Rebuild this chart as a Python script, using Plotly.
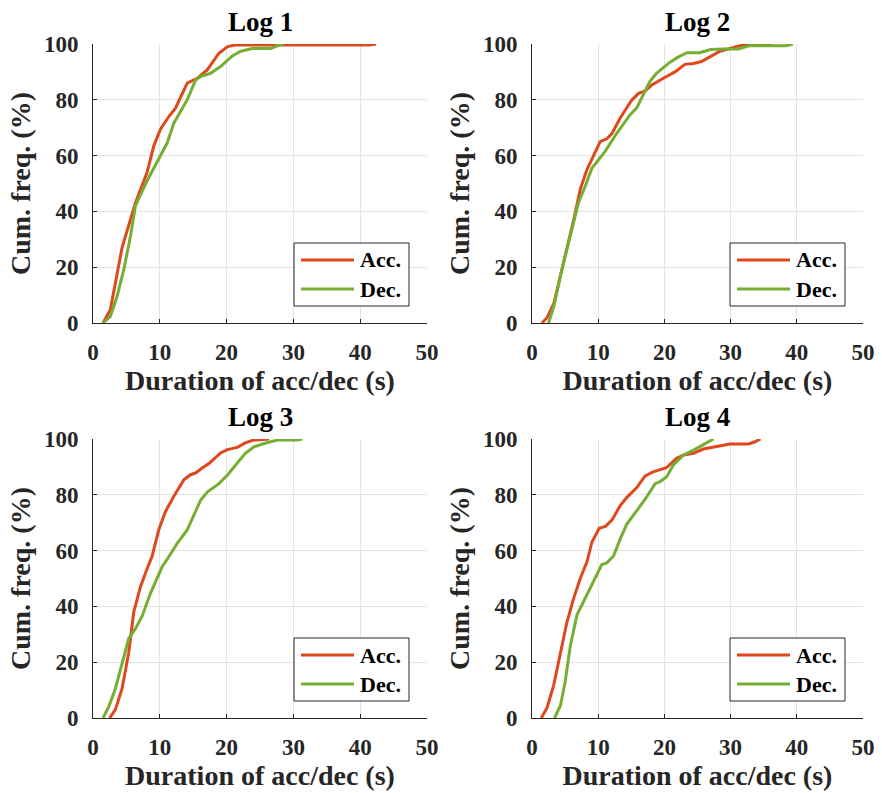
import plotly.graph_objects as go

# ---- data ----
log_titles = ["Log 1", "Log 2", "Log 3", "Log 4"]
series_names = ["Acc.", "Dec."]

log1_acc_x = [1.5, 2.6, 4.35, 5.6, 6.35, 8.1, 9.1, 10.1, 11.35, 12.35, 14.1, 15.6, 17.1, 18.85, 20.1, 21.1, 41.35, 42.35]
log1_acc_y = [0, 4.8, 27, 37, 43, 54, 63.5, 69.5, 74, 77, 86, 87.7, 90.7, 96.7, 99, 99.6, 99.6, 100]
log1_dec_x = [1.5, 2.6, 3.6, 4.6, 5.6, 6.35, 8.1, 10.1, 11.1, 12.1, 14.1, 15.35, 16.1, 17.6, 19.1, 20.85, 22.1, 23.85, 26.6, 27.6, 28.45]
log1_dec_y = [0, 2.4, 9.5, 19, 31, 42, 51, 59.7, 64.5, 71.6, 80, 87, 88.3, 89.5, 91.9, 95.7, 97.4, 98.4, 98.4, 99.3, 100]

log2_acc_x = [1.5, 2.3, 3.3, 4.8, 6.3, 7.3, 8.3, 10.3, 11.3, 12.1, 13.3, 15.1, 16.1, 17.1, 18.1, 19.85, 21.6, 23.1, 24.4, 25.6, 26.9, 28.4, 29.9, 31.4, 32.9, 36.4]
log2_acc_y = [0, 2, 7, 21.5, 37, 48, 55, 65, 66, 68, 73.4, 80, 82.3, 83.2, 85.3, 87.7, 90, 92.7, 93, 93.7, 95.5, 97.4, 98.4, 99.4, 100, 100]
log2_dec_x = [2.5, 3.3, 4.5, 5.8, 7, 8.04, 9.05, 10.05, 11.05, 12.8, 14.8, 15.8, 16.8, 17.8, 18.8, 20.8, 22, 23.4, 25.3, 27, 29, 31.2, 32.9, 38.4, 39.4]
log2_dec_y = [0, 6, 19, 32, 43, 49, 55.5, 58.5, 61.5, 68, 74.6, 77, 81.7, 86.5, 89.5, 93.4, 95.2, 96.9, 96.9, 98, 98.2, 98.2, 99.4, 99.4, 100]

log3_acc_x = [2.5, 3.35, 4.35, 5.35, 6.1, 7.1, 8.1, 8.85, 9.85, 10.85, 12.1, 13.6, 14.6, 15.35, 16.35, 17.35, 19.1, 20.1, 21.6, 22.8, 23.85, 26.35]
log3_acc_y = [0, 3, 10.5, 23.5, 38, 47, 53.5, 58, 67.5, 74, 79.5, 85.4, 87.2, 87.8, 89.6, 91.2, 95, 96.2, 97, 98.6, 99.5, 100]
log3_dec_x = [1.5, 2.35, 3.35, 4.35, 5.35, 6.35, 7.35, 8.6, 10.35, 11.35, 12.6, 14.1, 15.1, 16.1, 17.1, 18.85, 20.1, 21.6, 22.8, 24.1, 25.6, 27.6, 30.6, 31.35]
log3_dec_y = [0, 4, 10.5, 19.5, 28.5, 32, 36.5, 44.7, 54.2, 57.8, 62.6, 67.4, 72.7, 78, 81, 84, 87, 91.3, 94.9, 97.2, 98.4, 99.6, 99.6, 100]

log4_acc_x = [1.4, 2.26, 3.27, 4.27, 5.28, 6.28, 7.29, 8.3, 9.05, 10.15, 11.1, 12.1, 13.3, 14.3, 15.8, 17.1, 18.3, 20.3, 21.8, 22.9, 24.4, 25.9, 27.4, 28.4, 29.9, 32.7, 33.7, 34.5]
log4_acc_y = [0, 3.6, 11.7, 22.5, 34.4, 42.8, 50, 56, 63, 68, 68.7, 71, 76, 79, 82.5, 86.8, 88.2, 89.7, 93, 94.3, 94.9, 96.4, 97, 97.4, 98.2, 98.2, 99, 100]
log4_dec_x = [3.4, 4.3, 5, 5.8, 6.8, 7.8, 8.8, 10.55, 11.3, 12.3, 13.3, 14.3, 15.6, 17.1, 18.6, 19.35, 20.35, 21.35, 22.9, 24.4, 25.9, 27.4]
log4_dec_y = [0, 4.5, 12.9, 26, 37, 41.9, 46.7, 55, 55.6, 58, 64, 69.4, 73.6, 78.4, 84, 84.7, 86.5, 90.7, 94.3, 96, 98, 100]

x_tick_vals = [0, 10, 20, 30, 40, 50]
y_tick_vals = [0, 20, 40, 60, 80, 100]
x_label = "Duration of acc/dec (s)"
y_label = "Cum. freq. (%)"

logs = [
    (log1_acc_x, log1_acc_y, log1_dec_x, log1_dec_y),
    (log2_acc_x, log2_acc_y, log2_dec_x, log2_dec_y),
    (log3_acc_x, log3_acc_y, log3_dec_x, log3_dec_y),
    (log4_acc_x, log4_acc_y, log4_dec_x, log4_dec_y),
]

# ---- styling / layout ----
W, H = 882, 793
FONT = "Liberation Serif"
SERIES_COLORS = ["#DF481C", "#76AE33"]
AXIS_COLOR = "#262626"
GRID_COLOR = "#E3E3E3"
LINE_W = 3

# plot-area pixel boxes (left, right, top, bottom)
boxes = [(93, 427, 44, 323), (532, 863, 44, 323), (93, 427, 439, 718), (532, 863, 439, 718)]


def px(x):
    return x / W


def py(y):
    return 1 - y / H


def bold(size, color="#262626"):
    return dict(family=FONT, size=size, color=color, weight="bold")


fig = go.Figure()
layout = dict(
    width=W, height=H,
    margin=dict(l=0, r=0, t=0, b=0, autoexpand=False),
    paper_bgcolor="white", plot_bgcolor="white",
    font=dict(family=FONT, size=23, color="black"),
    showlegend=False,
    annotations=[], shapes=[],
)

for i, series in enumerate(logs):
    n = i + 1
    xa = "x" if n == 1 else f"x{n}"
    ya = "y" if n == 1 else f"y{n}"
    pairs = [(series[0], series[1]), (series[2], series[3])]
    for k, (sx, sy) in enumerate(pairs):
        fig.add_trace(go.Scatter(x=sx, y=sy, mode="lines", name=series_names[k],
                                 line=dict(color=SERIES_COLORS[k], width=LINE_W),
                                 xaxis=xa, yaxis=ya))
    l, r, t, b = boxes[i]
    axis_common = dict(
        showline=True, linecolor=AXIS_COLOR, linewidth=1, mirror=False,
        showgrid=True, gridcolor=GRID_COLOR, gridwidth=1,
        ticks="inside", ticklen=4, tickcolor=AXIS_COLOR, tickwidth=1,
        zeroline=False, automargin=False,
        tickfont=bold(23),
    )
    xkey = "xaxis" if n == 1 else f"xaxis{n}"
    ykey = "yaxis" if n == 1 else f"yaxis{n}"
    layout[xkey] = dict(axis_common, domain=[px(l), px(r)], range=[0, 50], tickvals=x_tick_vals,
                        anchor=ya, ticklabelstandoff=8,
                        title=dict(text=x_label, font=bold(28), standoff=6))
    layout[ykey] = dict(axis_common, domain=[py(b), py(t)], range=[0, 100], tickvals=y_tick_vals,
                        anchor=xa, ticklabelstandoff=9,
                        title=dict(text=y_label, font=bold(28), standoff=5))

    # subplot title
    layout["annotations"].append(dict(
        text=log_titles[i], xref="paper", yref="paper",
        x=px((l + r) / 2), y=py(t - 5), xanchor="center", yanchor="bottom",
        showarrow=False, font=bold(27, "black"),
    ))

    # legend box (bottom-right, inside the axes)
    bx1 = r - 18
    bx0 = bx1 - 115
    by1 = b - 17
    by0 = by1 - 63
    layout["shapes"].append(dict(
        type="rect", xref="paper", yref="paper",
        x0=px(bx0), x1=px(bx1), y0=py(by1), y1=py(by0),
        line=dict(color=AXIS_COLOR, width=1), fillcolor="white", layer="above",
    ))
    for k, name in enumerate(series_names):
        yy = by0 + 17 + 29 * k
        layout["shapes"].append(dict(
            type="line", xref="paper", yref="paper",
            x0=px(bx0 + 7), x1=px(bx0 + 60), y0=py(yy), y1=py(yy),
            line=dict(color=SERIES_COLORS[k], width=LINE_W), layer="above",
        ))
        layout["annotations"].append(dict(
            text=name, xref="paper", yref="paper",
            x=px(bx0 + 64), y=py(yy), xanchor="left", yanchor="middle",
            showarrow=False, font=bold(22, "black"),
        ))

fig.update_layout(**layout)
fig.write_html("out.html", config={"displayModeBar": False},
               post_script="document.body.style.margin='0';")
